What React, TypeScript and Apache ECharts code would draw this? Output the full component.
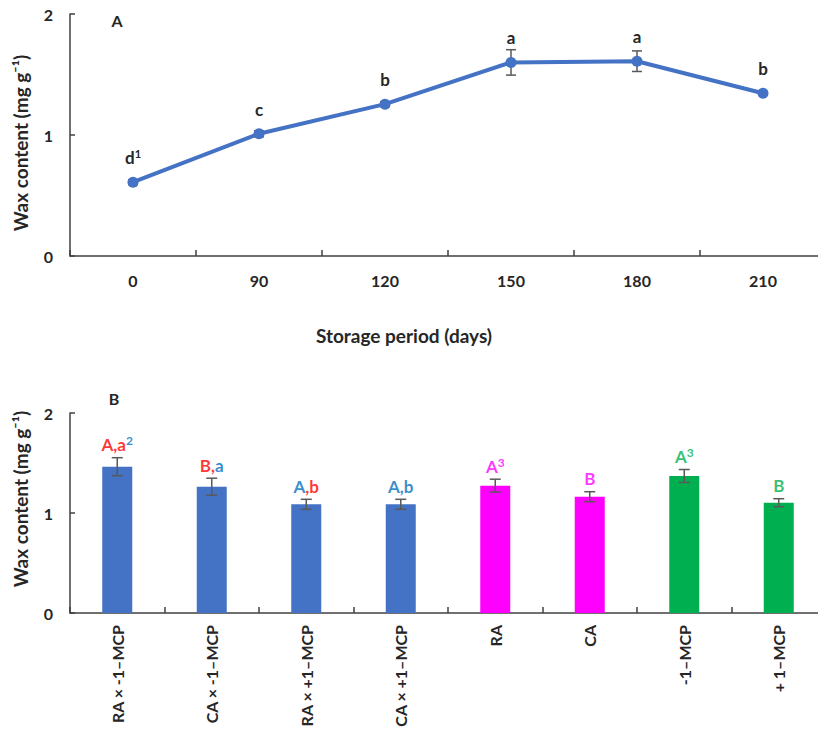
import React, { useEffect, useRef } from "react";
import * as echarts from "echarts";

// Panel A: wax content over storage period
const days = ["0", "90", "120", "150", "180", "210"];
const waxByDay = [0.61, 1.01, 1.255, 1.6, 1.61, 1.345];
const waxByDayErr = [0.02, 0.025, 0.02, 0.105, 0.085, 0.015];
const dayLetters = ["{n|d}{s|1}", "{n|c}", "{n|b}", "{n|a}", "{n|a}", "{n|b}"];

// Panel B: wax content by treatment
const treatments = [
  "RA × -1–MCP",
  "CA × -1–MCP",
  "RA × +1–MCP",
  "CA × +1–MCP",
  "RA",
  "CA",
  "-1–MCP",
  "+ 1–MCP",
];
const waxByTreatment = [1.463, 1.263, 1.087, 1.087, 1.273, 1.163, 1.37, 1.103];
const waxByTreatmentErr = [0.09, 0.085, 0.05, 0.05, 0.065, 0.05, 0.065, 0.04];
const treatmentGroup = ["blue", "blue", "blue", "blue", "magenta", "magenta", "green", "green"];
const treatmentLetters = [
  "{r|A,a}{us|2}",
  "{r|B,}{u|a}",
  "{u|A}{r|,b}",
  "{u|A,b}",
  "{m|A}{ms|3}",
  "{m|B}",
  "{g|A}{gs|3}",
  "{g|B}",
];

const groupColors: Record<string, string> = {
  blue: "#4472C4",
  magenta: "#FF00FF",
  green: "#00B050",
};

const FONT = "Lato";
const TXT = "#262626";
const AXIS = "#404040";
const ERR = "#595959";

function errorBarRenderer(cap: number) {
  return (params: any, api: any) => {
    const x = api.value(0);
    const lo = api.value(1);
    const hi = api.value(2);
    const p1 = api.coord([x, hi]);
    const p2 = api.coord([x, lo]);
    const s = { stroke: ERR, lineWidth: 1.5, fill: null };
    return {
      type: "group",
      children: [
        { type: "line", shape: { x1: p1[0], y1: p1[1], x2: p2[0], y2: p2[1] }, style: s },
        { type: "line", shape: { x1: p1[0] - cap, y1: p1[1], x2: p1[0] + cap, y2: p1[1] }, style: s },
        { type: "line", shape: { x1: p2[0] - cap, y1: p2[1], x2: p2[0] + cap, y2: p2[1] }, style: s },
      ],
    };
  };
}

function richStyle(color: string, size: number, sup: boolean) {
  return sup
    ? { color, fontFamily: FONT, fontWeight: "bold", fontSize: size, verticalAlign: "top", lineHeight: 12 }
    : { color, fontFamily: FONT, fontWeight: "bold", fontSize: size, lineHeight: 20 };
}

export default function App() {
  const ref = useRef<HTMLDivElement>(null);

  useEffect(() => {
    if (!ref.current) return;
    const chart = echarts.init(ref.current, null, { renderer: "svg" });

    const yAxisCommon = {
      type: "value",
      min: 0,
      max: 2,
      interval: 1,
      splitLine: { show: false },
      axisLine: { show: true, lineStyle: { color: AXIS, width: 1.5 } },
      axisTick: { show: true, inside: true, length: 5, lineStyle: { color: AXIS, width: 1.5 } },
      axisLabel: { color: TXT, fontFamily: FONT, fontWeight: "bold", fontSize: 16, margin: 17 },
    };

    const option: any = {
      animation: false,
      backgroundColor: "#ffffff",
      grid: [
        { left: 70, right: 0, top: 14, height: 242 },
        { left: 70, right: 0, top: 413, height: 200 },
      ],
      xAxis: [
        {
          type: "category",
          gridIndex: 0,
          data: days,
          axisLine: { lineStyle: { color: AXIS, width: 1.5 } },
          axisTick: { show: true, inside: true, length: 6, lineStyle: { color: AXIS, width: 1.5 } },
          axisLabel: { color: TXT, fontFamily: FONT, fontWeight: "bold", fontSize: 16, margin: 16 },
        },
        {
          type: "category",
          gridIndex: 1,
          data: treatments,
          axisLine: { lineStyle: { color: AXIS, width: 1.5 } },
          axisTick: { show: true, inside: true, length: 6, lineStyle: { color: AXIS, width: 1.5 } },
          axisLabel: {
            color: TXT,
            fontFamily: FONT,
            fontWeight: "bold",
            fontSize: 16,
            rotate: 90,
            interval: 0,
            margin: 12,
          },
        },
      ],
      yAxis: [
        { ...yAxisCommon, gridIndex: 0 },
        { ...yAxisCommon, gridIndex: 1 },
      ],
      series: [
        {
          type: "custom",
          xAxisIndex: 0,
          yAxisIndex: 0,
          renderItem: errorBarRenderer(5),
          data: waxByDay.map((v, i) => [i, v - waxByDayErr[i], v + waxByDayErr[i]]),
          encode: { x: 0, y: [1, 2] },
          z: 1,
        },
        {
          type: "line",
          xAxisIndex: 0,
          yAxisIndex: 0,
          data: waxByDay,
          symbol: "circle",
          symbolSize: 11,
          lineStyle: { color: "#4472C4", width: 4 },
          itemStyle: { color: "#4472C4" },
          z: 2,
          label: {
            show: true,
            position: "top",
            distance: 9,
            formatter: (p: any) => dayLetters[p.dataIndex],
            rich: {
              n: richStyle(TXT, 17, false),
              s: richStyle(TXT, 11, true),
            },
          },
        },
        {
          type: "bar",
          xAxisIndex: 1,
          yAxisIndex: 1,
          barWidth: 30,
          data: waxByTreatment.map((v, i) => ({
            value: v,
            itemStyle: { color: groupColors[treatmentGroup[i]] },
          })),
          z: 1,
        },
        {
          type: "custom",
          xAxisIndex: 1,
          yAxisIndex: 1,
          renderItem: errorBarRenderer(5.5),
          data: waxByTreatment.map((v, i) => [i, v - waxByTreatmentErr[i], v + waxByTreatmentErr[i]]),
          encode: { x: 0, y: [1, 2] },
          z: 3,
        },
        {
          type: "scatter",
          xAxisIndex: 1,
          yAxisIndex: 1,
          symbolSize: 0,
          data: waxByTreatment.map((v, i) => v + waxByTreatmentErr[i]),
          z: 4,
          label: {
            show: true,
            position: "top",
            distance: 3,
            formatter: (p: any) => treatmentLetters[p.dataIndex],
            rich: {
              r: richStyle("#FF0000", 17, false),
              u: richStyle("#0070C0", 17, false),
              m: richStyle("#FF00FF", 17, false),
              g: richStyle("#00B050", 17, false),
              us: richStyle("#0070C0", 12, true),
              ms: richStyle("#FF00FF", 12, true),
              gs: richStyle("#00B050", 12, true),
            },
          },
        },
      ],
      graphic: [
        {
          type: "text",
          x: 117,
          y: 20,
          style: { text: "A", font: `bold 16px ${FONT}`, fill: TXT, align: "center", verticalAlign: "middle" },
        },
        {
          type: "text",
          x: 114,
          y: 398,
          style: { text: "B", font: `bold 16px ${FONT}`, fill: TXT, align: "center", verticalAlign: "middle" },
        },
        {
          type: "text",
          x: 404,
          y: 335,
          style: {
            text: "Storage period (days)",
            font: `bold 19px ${FONT}`,
            fill: TXT,
            align: "center",
            verticalAlign: "middle",
          },
        },
        {
          type: "text",
          x: 20,
          y: 143,
          rotation: Math.PI / 2,
          style: {
            text: "Wax content (mg g⁻¹)",
            font: `bold 19px ${FONT}`,
            fill: TXT,
            align: "center",
            verticalAlign: "middle",
          },
        },
        {
          type: "text",
          x: 20,
          y: 499,
          rotation: Math.PI / 2,
          style: {
            text: "Wax content (mg g⁻¹)",
            font: `bold 19px ${FONT}`,
            fill: TXT,
            align: "center",
            verticalAlign: "middle",
          },
        },
      ],
    };

    chart.setOption(option);
    return () => chart.dispose();
  }, []);

  return (
    <div
      style={{
        position: "absolute",
        left: 0,
        top: 0,
        width: 818,
        height: 731,
        overflow: "hidden",
        background: "#fff",
      }}
    >
      <div ref={ref} style={{ width: 826, height: 731 }} />
    </div>
  );
}
